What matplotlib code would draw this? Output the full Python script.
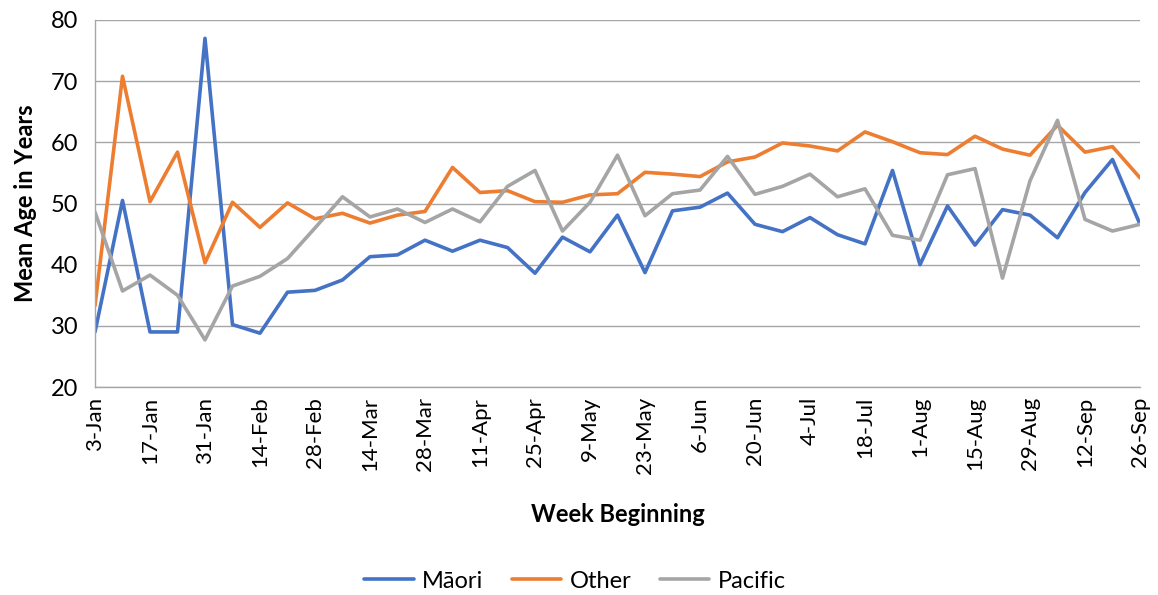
import matplotlib
matplotlib.use("Agg")
import matplotlib.pyplot as plt

plt.rcParams['font.family'] = ['Lato', 'DejaVu Sans']

weeks = ["3-Jan", "10-Jan", "17-Jan", "24-Jan", "31-Jan", "7-Feb", "14-Feb", "21-Feb",
         "28-Feb", "7-Mar", "14-Mar", "21-Mar", "28-Mar", "4-Apr", "11-Apr", "18-Apr",
         "25-Apr", "2-May", "9-May", "16-May", "23-May", "30-May", "6-Jun", "13-Jun",
         "20-Jun", "27-Jun", "4-Jul", "11-Jul", "18-Jul", "25-Jul", "1-Aug", "8-Aug",
         "15-Aug", "22-Aug", "29-Aug", "5-Sep", "12-Sep", "19-Sep", "26-Sep"]

maori = [29.0, 50.5, 29.0, 29.0, 77.0, 30.2, 28.8, 35.5, 35.8, 37.5,
         41.3, 41.6, 44.0, 42.2, 44.0, 42.8, 38.6, 44.5, 42.1, 48.1,
         38.7, 48.8, 49.4, 51.7, 46.6, 45.4, 47.7, 44.9, 43.4, 55.4,
         40.0, 49.6, 43.2, 49.0, 48.1, 44.4, 51.8, 57.2, 46.6]

other = [33.3, 70.8, 50.3, 58.4, 40.3, 50.2, 46.1, 50.1, 47.5, 48.4,
         46.8, 48.1, 48.7, 55.9, 51.8, 52.1, 50.3, 50.2, 51.4, 51.6,
         55.1, 54.8, 54.4, 56.8, 57.6, 59.9, 59.4, 58.6, 61.7, 60.1,
         58.3, 58.0, 61.0, 58.9, 57.9, 62.8, 58.4, 59.3, 54.2]

pacific = [48.6, 35.7, 38.3, 35.0, 27.7, 36.5, 38.1, 41.0, 46.0, 51.1,
           47.8, 49.1, 46.9, 49.1, 47.0, 52.8, 55.4, 45.5, 50.2, 57.9,
           48.0, 51.6, 52.2, 57.7, 51.5, 52.8, 54.8, 51.1, 52.4, 44.8,
           44.0, 54.7, 55.7, 37.8, 53.7, 63.6, 47.4, 45.5, 46.6]

series_names = ["Māori", "Other", "Pacific"]
colors = ["#4472C4", "#ED7D31", "#A5A5A5"]

fig = plt.figure(figsize=(11.58, 5.95), dpi=100)
ax = fig.add_axes([95/1158, 1 - 387/595, (1140 - 95)/1158, (387 - 20)/595])

x = list(range(len(weeks)))
for vals, name, c in zip([maori, other, pacific], series_names, colors):
    ax.plot(x, vals, color=c, lw=2.6, label=name, solid_joinstyle='round', solid_capstyle='round')

ax.set_xlim(0, len(weeks) - 1)
ax.set_ylim(20, 80)
ax.set_yticks(range(20, 81, 10))
ax.set_xticks(x[::2])
ax.set_xticklabels(weeks[::2], rotation=90, fontsize=16)
ax.tick_params(axis='y', labelsize=17, length=0, pad=12)
ax.tick_params(axis='x', length=0, pad=7)
ax.grid(axis='y', color='#A6A6A6', lw=1.0)
ax.set_axisbelow(True)
for s in ['top', 'right']:
    ax.spines[s].set_visible(False)
for s in ['left', 'bottom']:
    ax.spines[s].set_color('#A6A6A6')
    ax.spines[s].set_linewidth(1.0)

ax.set_ylabel("Mean Age in Years", fontsize=17, fontweight='bold', labelpad=10)
ax.set_xlabel("Week Beginning", fontsize=17, fontweight='bold', labelpad=21)

fig.legend(loc='center', bbox_to_anchor=(575/1158, 1 - 581/595), ncol=3, frameon=False,
           fontsize=17, handlelength=2.1, columnspacing=1.2, handletextpad=0.35)

fig.savefig("out.png", dpi=100)
